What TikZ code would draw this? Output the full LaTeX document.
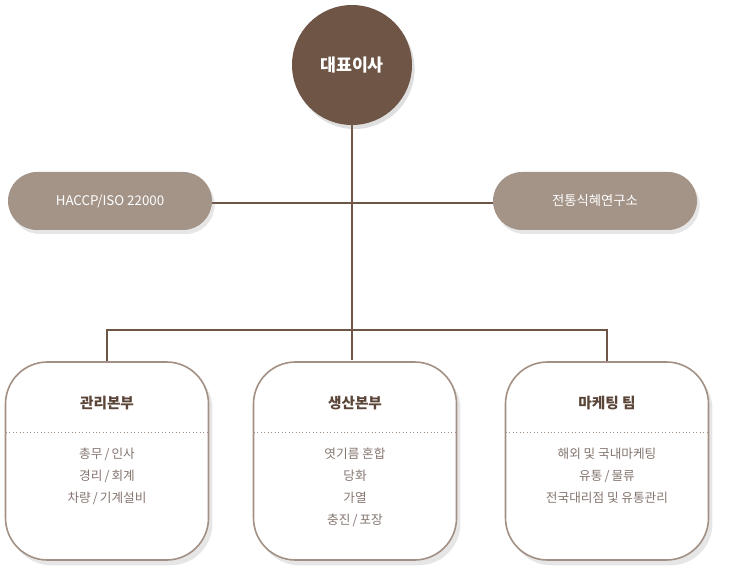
\documentclass[tikz,border=0pt]{standalone}
\usepackage{fontspec}
\setmainfont{Noto Sans CJK KR}
\usetikzlibrary{positioning, shadows}
\definecolor{ceo}{HTML}{6E5546}
\definecolor{pill}{HTML}{A49488}
\definecolor{frame}{HTML}{A39084}
\definecolor{title}{HTML}{5A4538}
\definecolor{item}{HTML}{857670}
\tikzset{
    ceobox/.style={circle, fill=ceo, minimum size=120*0.0264cm, text=white,
        font=\fontsize{13}{15}\selectfont\bfseries,
        drop shadow={opacity=0.25, shadow xshift=2pt, shadow yshift=-3pt}},
    pillbox/.style={rounded corners=29*0.0264cm, fill=pill, minimum width=204*0.0264cm,
        minimum height=58*0.0264cm, text=white, font=\fontsize{10}{12}\selectfont,
        drop shadow={opacity=0.2, shadow xshift=2pt, shadow yshift=-3pt}},
    deptbox/.style={rounded corners=42*0.0264cm, draw=frame, line width=1.2pt, fill=white,
        minimum width=203*0.0264cm, minimum height=198*0.0264cm,
        drop shadow={opacity=0.2, shadow xshift=3pt, shadow yshift=-4pt}},
    depttitle/.style={text=title, font=\fontsize{11}{13}\selectfont\bfseries},
    deptitems/.style={text=item, font=\fontsize{9.5}{16.5}\selectfont, align=center},
    link/.style={draw=ceo, line width=1.2pt}
}
\begin{document}
\begin{tikzpicture}[x=0.0264cm, y=-0.0264cm]
    \useasboundingbox (0,0) rectangle (733,585);
    % Lines
    \draw[link] (352,65) -- (352,360);
    \draw[link] (110,203) -- (595,203);
    \draw[link] (107,362) -- (107,330) -- (607,330) -- (607,362);
    % CEO
    \node[ceobox] (ceo) at (352,65) {대표이사};
    % Side units
    \node[pillbox] (haccp) at (110,201) {HACCP/ISO 22000};
    \node[pillbox] (lab) at (595,201) {전통식혜연구소};
    % Departments
    \foreach \x/\name/\head/\items in {
        107/mgmt/관리본부/{총무\,/\,인사\\경리\,/\,회계\\차량\,/\,기계설비},
        355/prod/생산본부/{엿기름 혼합\\당화\\가열\\충진\,/\,포장},
        607/mkt/마케팅 팀/{해외 및 국내마케팅\\유통\,/\,물류\\전국대리점 및 유통관리}}
    {
        \node[deptbox] (\name) at (\x,461) {};
        \node[depttitle] (\name-head) at (\x,403) {\head};
        \draw[frame, dotted, line width=0.6pt] (\x-101,432) -- (\x+101,432);
        \node[deptitems, anchor=north] (\name-items) at (\x,443) {\items};
    }
\end{tikzpicture}
\end{document}
